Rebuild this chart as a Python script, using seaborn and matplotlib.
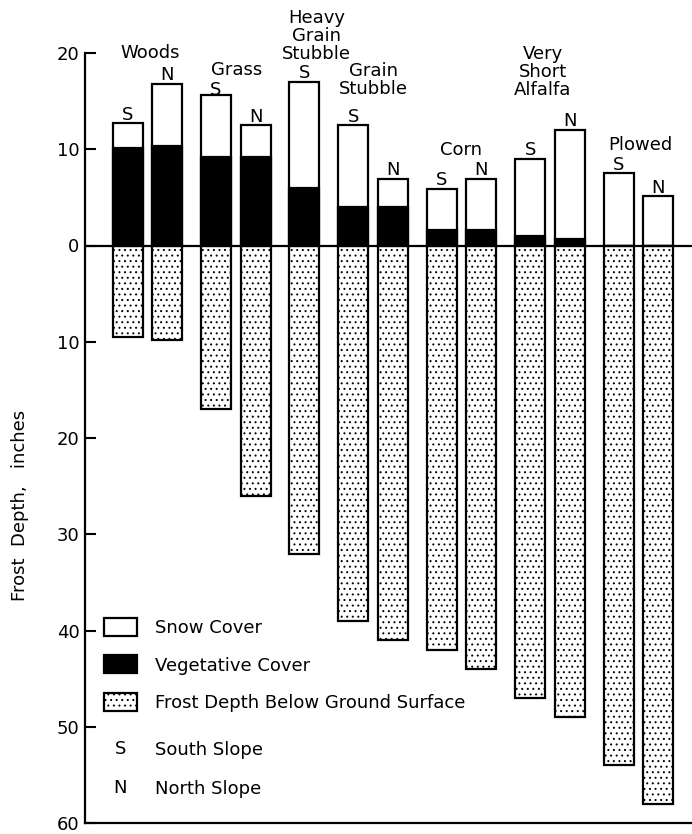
import numpy as np
import pandas as pd
import matplotlib
matplotlib.use("Agg")
import matplotlib.pyplot as plt
import matplotlib.patches as mpatches
import matplotlib.text as mtext
from matplotlib.legend_handler import HandlerBase
import seaborn as sns

# ---- data (inches) -------------------------------------------------------
groups = ["Woods", "Woods", "Grass", "Grass", "Heavy Grain Stubble",
          "Grain Stubble", "Grain Stubble", "Corn", "Corn",
          "Very Short Alfalfa", "Very Short Alfalfa", "Plowed", "Plowed"]
slopes = ["S", "N", "S", "N", "S", "S", "N", "S", "N", "S", "N", "S", "N"]
vegetative_cover = [10.1, 10.3, 9.2, 9.2, 6.0, 4.0, 4.0, 1.6, 1.6, 1.0, 0.7, 0.0, 0.0]
snow_cover = [2.6, 6.5, 6.4, 3.3, 11.0, 8.5, 2.9, 4.3, 5.3, 8.0, 11.3, 7.5, 5.1]
frost_depth = [9.5, 9.8, 17, 26, 32, 39, 41, 42, 44, 47, 49, 54, 58]

group_titles = {
    "Woods": "Woods",
    "Grass": "Grass",
    "Heavy Grain Stubble": "Heavy\nGrain\nStubble",
    "Grain Stubble": "Grain\nStubble",
    "Corn": "Corn",
    "Very Short Alfalfa": "Very\nShort\nAlfalfa",
    "Plowed": "Plowed",
}
y_ticks = [-60, -50, -40, -30, -20, -10, 0, 10, 20]

# ---- layout: bars of one site sit close, sites are separated by a gap ----
PAIR_STEP = 1.0
GROUP_STEP = 1.235
pos = []
x = 0.0
for i, g in enumerate(groups):
    if i > 0:
        x += PAIR_STEP if g == groups[i - 1] else GROUP_STEP
    pos.append(round(x, 3))

df = pd.DataFrame({
    "pos": pos,
    "group": groups,
    "slope": slopes,
    "veg": vegetative_cover,
    "snow_top": np.array(vegetative_cover) + np.array(snow_cover),
    "frost": -np.array(frost_depth, dtype=float),
})

sns.set_theme(style="white")
plt.rcParams["font.family"] = ["DejaVu Sans"]
plt.rcParams["text.color"] = "black"
plt.rcParams["axes.labelcolor"] = "black"
plt.rcParams["hatch.linewidth"] = 0.7
plt.rcParams["hatch.color"] = "black"

FS = 13
STIPPLE = "..."

fig = plt.figure(figsize=(6.92, 8.34), dpi=100)
ax = fig.add_axes([85 / 692, 11 / 834, 607 / 692, 770 / 834])

BW = 0.76
EDGE = 1.6
common = dict(x="pos", native_scale=True, width=BW, errorbar=None,
              edgecolor="black", linewidth=EDGE, ax=ax)

# snow surface (white), vegetation (black) above ground
sns.barplot(data=df, y="snow_top", color="white", saturation=1, **common)
sns.barplot(data=df, y="veg", color="black", saturation=1, **common)

# frost below ground surface, stippled
n_before = len(ax.patches)
sns.barplot(data=df, y="frost", color="white", saturation=1, **common)
for p in ax.patches[n_before:]:
    p.set_hatch(STIPPLE)
    p.set_facecolor("white")
    p.set_edgecolor("black")

ax.axhline(0, color="black", lw=1.6, zorder=5)

# slope letters above each bar (Grass S sits tight under its site name)
tight = {2: 0.6}
for i, r in df.iterrows():
    ax.annotate(r["slope"], (r["pos"], r["snow_top"]),
                xytext=(0, tight.get(i, 2.6)),
                textcoords="offset points", ha="center", va="baseline",
                fontsize=FS, color="black")

# site names
title_y = {"Woods": 20.0, "Grass": 18.2, "Heavy Grain Stubble": 21.8,
           "Grain Stubble": 17.2, "Corn": 9.9, "Very Short Alfalfa": 18.0,
           "Plowed": 10.4}
title_dx = {"Woods": 0.07, "Grass": 0.03, "Heavy Grain Stubble": 0.3,
            "Grain Stubble": 0.0, "Corn": 0.0, "Very Short Alfalfa": -0.18,
            "Plowed": 0.04}
for g, sub in df.groupby("group", sort=False):
    cx = sub["pos"].mean() + title_dx[g]
    ax.text(cx, title_y[g], group_titles[g], ha="center", va="center",
            fontsize=FS, linespacing=1.0, clip_on=False, color="black")

# axes styling
ax.set_xlim(-1.076, 14.266)
ax.set_ylim(-60, 20)
ax.set_xticks([])
ax.set_xlabel("")
ax.set_ylabel("")
ax.set_yticks(y_ticks)
ax.set_yticklabels([str(abs(t)) for t in y_ticks], fontsize=FS)
ax.tick_params(axis="y", direction="in", length=8, width=1.5, pad=4,
               left=True, colors="black")
for side in ["top", "right"]:
    ax.spines[side].set_visible(False)
for side in ["left", "bottom"]:
    ax.spines[side].set_visible(True)
    ax.spines[side].set_color("black")
    ax.spines[side].set_linewidth(1.6)
ax.grid(False)

fig.text(20 / 692, 1 - 505 / 834, "Frost  Depth,   inches", rotation=90,
         ha="center", va="center", fontsize=FS, color="black")


# legend: three swatches, then the slope letters
class LetterHandler(HandlerBase):
    def __init__(self, letter):
        super().__init__()
        self.letter = letter

    def create_artists(self, legend, orig_handle, xdescent, ydescent,
                       width, height, fontsize, trans):
        t = mtext.Text(width / 2 - xdescent, height / 2 - ydescent,
                       self.letter, ha="center", va="center",
                       fontsize=fontsize, color="black", transform=trans)
        return [t]


def to_axes(px, py):
    return ((px - 85) / 607, (823 - py) / 770)


h_snow = mpatches.Patch(facecolor="white", edgecolor="black", lw=EDGE)
h_veg = mpatches.Patch(facecolor="black", edgecolor="black", lw=EDGE)
h_frost = mpatches.Patch(facecolor="white", edgecolor="black", lw=EDGE,
                         hatch=STIPPLE)
leg_kw = dict(loc="upper left", frameon=False, fontsize=FS,
              handlelength=1.8, handleheight=1.15, handletextpad=1.05,
              borderpad=0, borderaxespad=0, labelcolor="black")
leg1 = ax.legend(
    [h_snow, h_veg, h_frost],
    ["Snow Cover", "Vegetative Cover", "Frost Depth Below Ground Surface"],
    bbox_to_anchor=to_axes(104, 618), labelspacing=1.02, **leg_kw)
ax.add_artist(leg1)

h_s = mpatches.Patch(visible=False)
h_n = mpatches.Patch(visible=False)
ax.legend(
    [h_s, h_n], ["South Slope", "North Slope"],
    handler_map={h_s: LetterHandler("S"), h_n: LetterHandler("N")},
    bbox_to_anchor=to_axes(104, 740), labelspacing=1.1, **leg_kw)

fig.savefig("out.png", dpi=100, facecolor="white")
